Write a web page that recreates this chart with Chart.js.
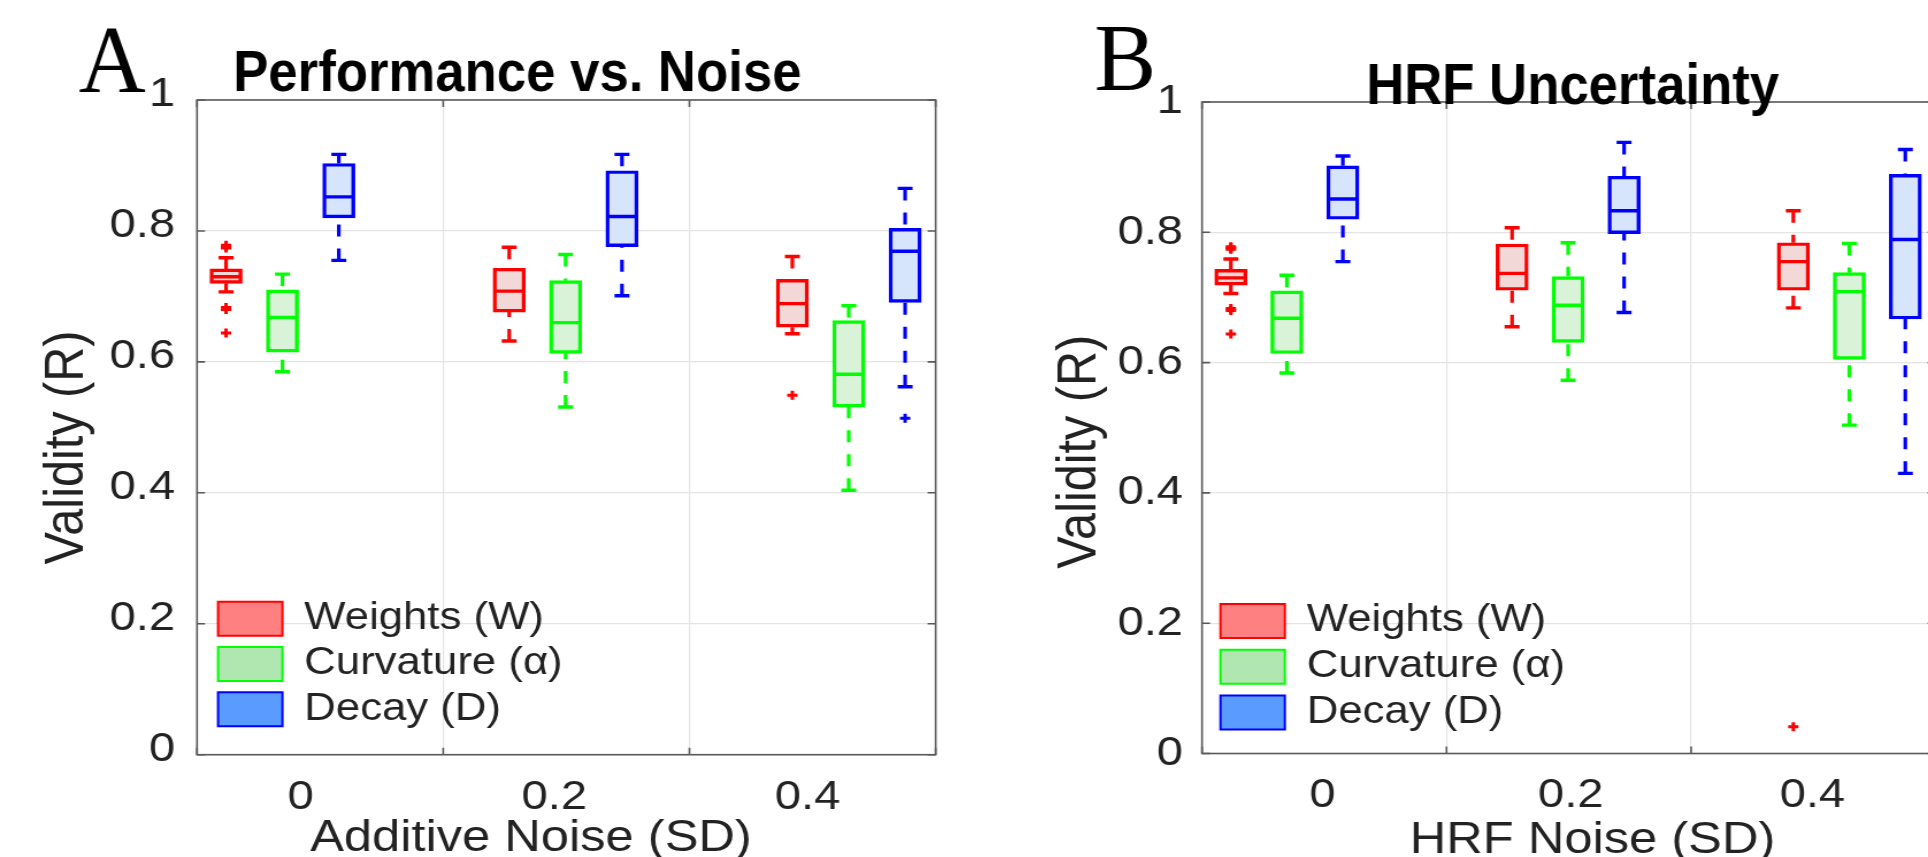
<!DOCTYPE html>
<html>
<head>
<meta charset="utf-8">
<script src="https://cdn.jsdelivr.net/npm/chart.js@4.4.1/dist/chart.umd.min.js"></script>
<style>
  html, body { margin: 0; padding: 0; background: #fff; overflow: hidden; }
  #stage { position: relative; width: 1928px; height: 857px; overflow: hidden; background: #fff; }
  /* the original figure is stretched sideways, so both panels are too */
  canvas { position: absolute; top: 0; transform: scaleX(1.15); transform-origin: 0 0; }
  #panelA { left: 0; }
  #panelB { left: 1000px; }
</style>
</head>
<body>
<div id="stage">
  <canvas id="panelA" width="830" height="857" style="width:830px;height:857px"></canvas>
  <canvas id="panelB" width="830" height="857" style="width:830px;height:857px"></canvas>
</div>
<script>
/*-------- DATA ---------*/
const noiseLevels = ['0', '0.2', '0.4'];
const seriesNames = ['Weights (W)', 'Curvature (\u03b1)', 'Decay (D)'];

// one row per noise level: [lower whisker, Q1, median, Q3, upper whisker]
const additiveWeights   = [[0.707, 0.720, 0.730, 0.742, 0.759], [0.632, 0.676, 0.708, 0.743, 0.775], [0.643, 0.653, 0.689, 0.726, 0.761]];
const additiveCurvature = [[0.585, 0.615, 0.668, 0.710, 0.734], [0.531, 0.613, 0.660, 0.724, 0.764], [0.404, 0.531, 0.581, 0.663, 0.686]];
const additiveDecay     = [[0.755, 0.820, 0.852, 0.903, 0.917], [0.701, 0.776, 0.822, 0.892, 0.917], [0.562, 0.691, 0.769, 0.804, 0.865]];
const additiveWeightsOut   = [[0.774, 0.776, 0.778, 0.680, 0.683, 0.644], [], [0.549]];
const additiveCurvatureOut = [[], [], []];
const additiveDecayOut     = [[], [], [0.514]];

const hrfWeights   = [[0.706, 0.719, 0.730, 0.743, 0.759], [0.655, 0.711, 0.737, 0.782, 0.807], [0.684, 0.711, 0.755, 0.784, 0.833]];
const hrfCurvature = [[0.584, 0.614, 0.668, 0.710, 0.734], [0.573, 0.631, 0.688, 0.732, 0.784], [0.504, 0.605, 0.709, 0.738, 0.783]];
const hrfDecay     = [[0.755, 0.820, 0.851, 0.902, 0.917], [0.677, 0.798, 0.833, 0.886, 0.938], [0.430, 0.667, 0.789, 0.889, 0.927]];
const hrfWeightsOut   = [[0.774, 0.776, 0.778, 0.680, 0.683, 0.644], [], [0.041]];
const hrfCurvatureOut = [[], [], []];
const hrfDecayOut     = [[], [], []];

/*-------- STYLE ---------*/
const FONT = '"Liberation Sans", Arial, Helvetica, sans-serif';
const SERIF = '"Liberation Serif", "Times New Roman", serif';
const TEXT = '#222222';
const AXIS = '#5a5a5a';
const GRID = '#e4e4e4';
const lineColors = ['#ff0000', '#00ff00', '#0000ff'];
const boxFills = ['#f3d8d8', '#d8f3d8', '#d6e4fc'];
const legendFills = ['#ff8080', '#b0e6b0', '#5a9bff'];
const W = 830;

// x position of a box: group g, series s (x axis runs 0..3, one unit per group)
const boxX = (g, s) => g * 1.15 + 0.118 + s * 0.229;

const panels = [
  {
    canvas: 'panelA',
    stats: [additiveWeights, additiveCurvature, additiveDecay],
    outliers: [additiveWeightsOut, additiveCurvatureOut, additiveDecayOut],
    area: { left: 171.3, right: 813.9, top: 100, bottom: 754.7 },
    tickPos: [0.421, 1.451, 2.480],
    yLabelShift: -5.5, yLabelPad: 19, xLabelPad: 14.5,
    legend: { x: 189.6, y: 601.7, padding: 7.3 },
    letter: { text: 'A', x: 68.4, y: 91.7 },
    title: { text: 'Performance vs. Noise', x: 202.8, y: 90.7 },
    xTitle: { text: 'Additive Noise (SD)', x: 461.7, y: 850.5 },
    yTitle: { text: 'Validity (R)', x: 72.4, y: 447.5 }
  },
  {
    canvas: 'panelB',
    stats: [hrfWeights, hrfCurvature, hrfDecay],
    outliers: [hrfWeightsOut, hrfCurvatureOut, hrfDecayOut],
    area: { left: 175.65, right: 816.1, top: 102, bottom: 753.5 },
    tickPos: [0.493, 1.508, 2.496],
    yLabelShift: 0, yLabelPad: 16.5, xLabelPad: 13.5,
    legend: { x: 191.7, y: 604, padding: 7.8 },
    letter: { text: 'B', x: 82, y: 90 },
    title: { text: 'HRF Uncertainty', x: 318.4, y: 104 },
    xTitle: { text: 'HRF Noise (SD)', x: 515.2, y: 853.2 },
    yTitle: { text: 'Validity (R)', x: 82.6, y: 451.7 }
  }
];

function buildDatasets(stats, outliers) {
  const sets = [];
  // boxes first so legend items are datasets 0..2
  stats.forEach((rows, s) => {
    sets.push({
      type: 'bar', label: seriesNames[s], order: 4,
      data: rows.map((r, g) => ({ x: boxX(g, s), y: [r[1], r[3]] })),
      backgroundColor: boxFills[s], borderColor: lineColors[s], borderWidth: 3.4,
      borderSkipped: false, barThickness: 28, grouped: false
    });
  });
  stats.forEach((rows, s) => {
    const whisk = [];
    rows.forEach((r, g) => {
      const x = boxX(g, s);
      whisk.push({ x, y: r[4] }, { x, y: r[3] }, { x, y: null }, { x, y: r[0] }, { x, y: r[1] }, { x, y: null });
    });
    sets.push({
      type: 'line', label: 'whisker', order: 3, data: whisk,
      borderColor: lineColors[s], borderWidth: 3.2, borderDash: [12, 12],
      pointRadius: 0, spanGaps: false, fill: false, tension: 0
    });
    sets.push({
      type: 'scatter', label: 'cap', order: 2,
      data: rows.flatMap((r, g) => [{ x: boxX(g, s), y: r[0] }, { x: boxX(g, s), y: r[4] }]),
      pointStyle: 'line', pointRadius: 6.5, pointBorderWidth: 3.4, pointBorderColor: lineColors[s]
    });
    sets.push({
      type: 'scatter', label: 'median', order: 1,
      data: rows.map((r, g) => ({ x: boxX(g, s), y: r[2] })),
      pointStyle: 'line', pointRadius: 13, pointBorderWidth: 3.4, pointBorderColor: lineColors[s]
    });
    sets.push({
      type: 'scatter', label: 'outlier', order: 0,
      data: outliers[s].flatMap((vals, g) => vals.map(v => ({ x: boxX(g, s), y: v }))),
      pointStyle: 'cross', pointRadius: 4.5, pointBorderWidth: 3, pointBorderColor: lineColors[s]
    });
  });
  return sets;
}

/*----- frame, inward ticks, titles -----*/
const matlabLook = {
  id: 'matlabLook',
  afterLayout(chart, args, opts) {
    const lg = chart.legend;
    if (!lg) return;
    const fontSize = 38, boxH = 34;
    lg.left = opts.legend.x - opts.legend.padding;
    lg.top = opts.legend.y - Math.max((fontSize - boxH) / 2, 0) - opts.legend.padding;
    lg.bottom = chart.height;
    lg.right = chart.chartArea.right;
  },
  afterDraw(chart, args, opts) {
    const { ctx, chartArea: a, scales } = chart;
    ctx.save();
    ctx.strokeStyle = AXIS;
    ctx.lineWidth = 1.6;
    ctx.strokeRect(a.left, a.top, a.right - a.left, a.bottom - a.top);
    ctx.beginPath();
    scales.y.ticks.forEach(t => {
      const y = scales.y.getPixelForValue(t.value);
      ctx.moveTo(a.left, y); ctx.lineTo(a.left + 7, y);
      ctx.moveTo(a.right, y); ctx.lineTo(a.right - 7, y);
    });
    scales.x.ticks.forEach(t => {
      const x = scales.x.getPixelForValue(t.value);
      ctx.moveTo(x, a.bottom); ctx.lineTo(x, a.bottom - 7);
      ctx.moveTo(x, a.top); ctx.lineTo(x, a.top + 7);
    });
    ctx.stroke();

    ctx.textBaseline = 'alphabetic';
    // panel letter
    ctx.fillStyle = '#000';
    ctx.textAlign = 'left';
    ctx.save();
    ctx.translate(opts.letter.x, opts.letter.y);
    ctx.scale(0.84, 1);
    ctx.font = '96px ' + SERIF;
    ctx.fillText(opts.letter.text, 0, 0);
    ctx.restore();
    // title (condensed bold)
    ctx.save();
    ctx.translate(opts.title.x, opts.title.y);
    ctx.scale(0.79, 1);
    ctx.font = 'bold 58px ' + FONT;
    ctx.fillText(opts.title.text, 0, 0);
    ctx.restore();
    // axis titles
    ctx.fillStyle = TEXT;
    ctx.textAlign = 'center';
    ctx.font = '44px ' + FONT;
    ctx.fillText(opts.xTitle.text, opts.xTitle.x, opts.xTitle.y);
    ctx.save();
    ctx.translate(opts.yTitle.x, opts.yTitle.y);
    ctx.rotate(-Math.PI / 2);
    ctx.font = '48.6px ' + FONT;
    ctx.fillText(opts.yTitle.text, 0, 0);
    ctx.restore();
    ctx.restore();
  }
};

panels.forEach(p => {
  const a = p.area;
  new Chart(document.getElementById(p.canvas), {
    type: 'bar',
    data: { datasets: buildDatasets(p.stats, p.outliers) },
    plugins: [matlabLook],
    options: {
      responsive: false,
      animation: false,
      events: [],
      layout: { padding: { left: 0, top: a.top, right: W - a.right, bottom: 0 } },
      scales: {
        x: {
          type: 'linear', position: 'bottom', min: 0, max: 3, weight: 0, offset: false,
          ticks: { display: false, stepSize: 1 },
          grid: { color: GRID, lineWidth: 1.2, drawTicks: false, offset: false },
          border: { display: false },
          afterFit: s => { s.height = 0; }
        },
        xLabels: {
          type: 'linear', position: 'bottom', min: 0, max: 3, weight: 1, offset: false,
          afterBuildTicks: s => { s.ticks = p.tickPos.map(v => ({ value: v })); },
          ticks: {
            autoSkip: false, maxRotation: 0, padding: p.xLabelPad, color: TEXT,
            font: { family: FONT, size: 41, lineHeight: 1 },
            callback: (v, i) => noiseLevels[i]
          },
          grid: { display: false, offset: false },
          border: { display: false },
          afterFit: s => { s.height = 857 - a.bottom; }
        },
        y: {
          type: 'linear', position: 'left', min: 0, max: 1,
          ticks: {
            stepSize: 0.2, padding: p.yLabelPad, labelOffset: p.yLabelShift, color: TEXT,
            font: { family: FONT, size: 41, lineHeight: 1 },
            callback: v => String(+v.toFixed(1))
          },
          grid: { color: GRID, lineWidth: 1.3, drawTicks: false },
          border: { display: false },
          afterFit: s => { s.width = a.left; }
        }
      },
      plugins: {
        title: { display: false },
        tooltip: { enabled: false },
        legend: {
          position: 'chartArea',
          align: 'start',
          labels: {
            boxWidth: 56, boxHeight: 34, padding: p.legend.padding, color: TEXT,
            font: { family: FONT, size: 38 },
            generateLabels: chart => chart.data.datasets.slice(0, 3).map((ds, i) => ({
              text: ds.label, fillStyle: legendFills[i], strokeStyle: lineColors[i],
              lineWidth: 2, hidden: false, datasetIndex: i, fontColor: TEXT
            }))
          }
        },
        matlabLook: {
          legend: p.legend, letter: p.letter, title: p.title,
          xTitle: p.xTitle, yTitle: p.yTitle
        }
      }
    }
  });
});
</script>
</body>
</html>
